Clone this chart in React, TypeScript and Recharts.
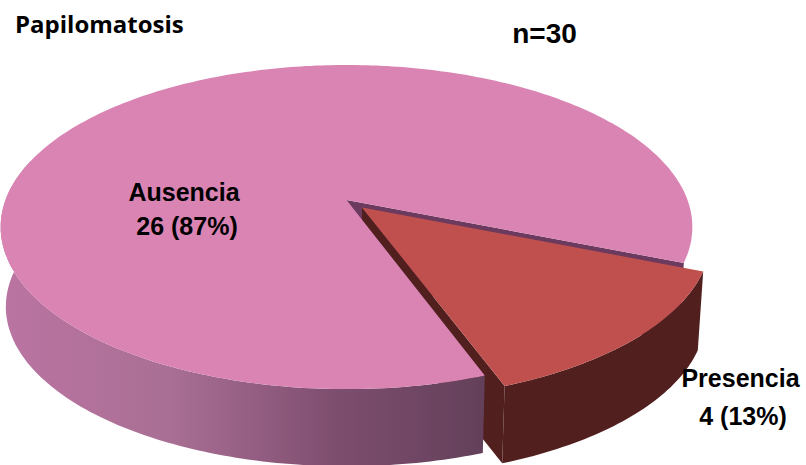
import { Pie, PieChart } from "recharts";

const categories = ["Ausencia", "Presencia"];
const counts = [26, 4];
const title = "Papilomatosis";
const sampleSize = "n=30";

const total = counts.reduce((a, b) => a + b, 0);
const slices = categories.map((name, i) => ({ name, value: counts[i] }));
const caption = (i: number) => `${counts[i]} (${Math.round((counts[i] / total) * 100)}%)`;

// 3D look: the flat disc is tilted and seen through a perspective divide
const TILT = 0.462;
const PERSPECTIVE = 0.167;
const DEPTH = 80;
const BASE_SCALE = 0.985;
const EXPLODE = 0.065;

const PINK = "#da84b4";
const RED = "#c0504d";
const MAROON = "#501f1e";
const PLUM = "#6b3a5e";

type SectorProps = {
  cx: number;
  cy: number;
  outerRadius: number;
  startAngle: number;
  endAngle: number;
  index: number;
};

type Pt = [number, number];

const rad = (deg: number) => (deg * Math.PI) / 180;

function project(p: SectorProps, u: number, v: number, base: boolean): Pt {
  const s = base ? BASE_SCALE : 1;
  const den = 1 - PERSPECTIVE * v;
  return [
    p.cx + (p.outerRadius * s * u) / den,
    p.cy + (base ? DEPTH : 0) + (p.outerRadius * TILT * s * v) / den,
  ];
}

// pulled-out slices move along their mid angle in the disc plane
function shift(p: SectorProps): Pt {
  if (p.index !== 1) return [0, 0];
  const mid = rad(-(p.startAngle + p.endAngle) / 2);
  return [EXPLODE * Math.cos(mid), EXPLODE * Math.sin(mid)];
}

function rim(p: SectorProps, from: number, to: number, base: boolean): Pt[] {
  const [du, dv] = shift(p);
  const steps = Math.max(2, Math.ceil(Math.abs(to - from)));
  const pts: Pt[] = [];
  for (let i = 0; i <= steps; i++) {
    const a = rad(from + ((to - from) * i) / steps);
    pts.push(project(p, Math.cos(a) + du, Math.sin(a) + dv, base));
  }
  return pts;
}

const hub = (p: SectorProps, base: boolean) => {
  const [du, dv] = shift(p);
  return project(p, du, dv, base);
};

const toPath = (pts: Pt[]) =>
  "M" + pts.map(([x, y]) => `${x.toFixed(1)},${y.toFixed(1)}`).join("L") + "Z";

// Angles on screen run clockwise from 3 o'clock
const range = (p: SectorProps): Pt => [-p.startAngle, -p.endAngle];

// Back layer: cut faces and the outer wall of the pulled-out slice
function WallSector(props: any) {
  const p = props as SectorProps;
  const [a0, a1] = range(p);
  if (p.index === 0) {
    const edge = [rim(p, a1, a1, false)[0], rim(p, a1, a1, true)[0]];
    return <path d={toPath([hub(p, false), edge[0], edge[1], hub(p, true)])} fill={PLUM} />;
  }
  const hi = Math.max(a0, a1);
  const lo = Math.min(a0, a1);
  const cut = [hub(p, false), rim(p, hi, hi, false)[0], rim(p, hi, hi, true)[0], hub(p, true)];
  const wall = [...rim(p, lo, hi, false), ...rim(p, hi, lo, true)];
  return (
    <g>
      <path d={toPath(cut)} fill={MAROON} />
      <path d={toPath(wall)} fill={MAROON} />
    </g>
  );
}

// Front layer: pink front wall and the top faces
function FaceSector(props: any) {
  const p = props as SectorProps;
  const [a0, a1] = range(p);
  const top = toPath([hub(p, false), ...rim(p, a0, a1, false)]);
  if (p.index !== 0) return <path d={top} fill={RED} />;
  const frontEnd = 195;
  const wall = [...rim(p, a0, frontEnd, false), ...rim(p, frontEnd, a0, true)];
  return (
    <g>
      <path d={toPath(wall)} fill="url(#pinkWall)" />
      <path d={top} fill={PINK} />
    </g>
  );
}

const boldArial = { fontFamily: "'Liberation Sans', Arial, sans-serif", fontWeight: 700, fill: "#000" };

// Two-line slice captions, placed by hand beside or on their slice
const captionSpots = [
  { x: 184, y: 200.5, x2: 187, y2: 235 },
  { x: 740.5, y: 387, x2: 743, y2: 425 },
];

function SliceLabel(props: any) {
  const i: number = props.index;
  const s = captionSpots[i];
  return (
    <g>
      <text x={s.x} y={s.y} fontSize={25} textAnchor="middle" {...boldArial}>
        {categories[i]}
      </text>
      <text x={s.x2} y={s.y2} fontSize={25} textAnchor="middle" {...boldArial}>
        {caption(i)}
      </text>
    </g>
  );
}

export default function App() {
  return (
    <div style={{ position: "absolute", left: 0, top: 0, width: 806, height: 465, background: "#fff" }}>
      <PieChart width={806} height={465} margin={{ top: 0, right: 0, bottom: 0, left: 0 }}>
        <defs>
          <linearGradient id="pinkWall" x1="0" y1="0" x2="1" y2="0">
            <stop offset="0" stopColor="#bb74a2" />
            <stop offset="0.35" stopColor="#a96f94" />
            <stop offset="0.7" stopColor="#7d4d6e" />
            <stop offset="1" stopColor="#63405a" />
          </linearGradient>
        </defs>
        <Pie
          data={slices}
          dataKey="value"
          nameKey="name"
          cx={346.5}
          cy={200}
          outerRadius={341}
          startAngle={-70}
          endAngle={-430}
          stroke="none"
          shape={WallSector}
          isAnimationActive={false}
        />
        <Pie
          data={slices}
          dataKey="value"
          nameKey="name"
          cx={346.5}
          cy={200}
          outerRadius={341}
          startAngle={-70}
          endAngle={-430}
          stroke="none"
          shape={FaceSector}
          label={SliceLabel}
          labelLine={false}
          isAnimationActive={false}
        />
        <text x={15} y={33} fontFamily="'Open Sans', sans-serif" fontWeight={700} fontSize={24} fill="#000">
          {title}
        </text>
        <text x={544.5} y={43} fontSize={28} textAnchor="middle" {...boldArial}>
          {sampleSize}
        </text>
      </PieChart>
    </div>
  );
}
